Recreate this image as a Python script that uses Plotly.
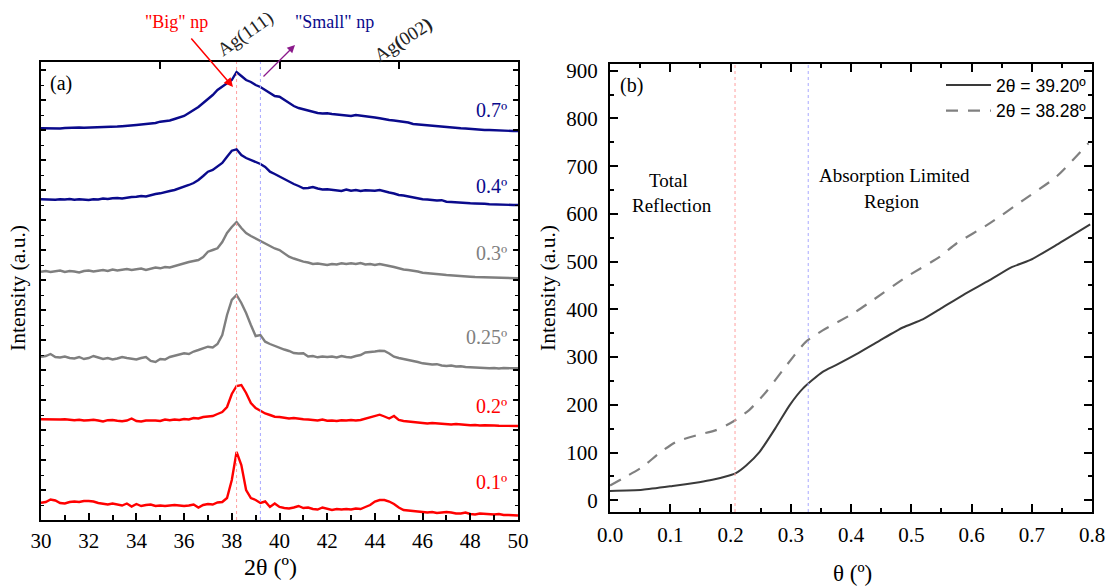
import plotly.graph_objects as go

# ---------------- Panel (a) data: 2theta scan (0.2 deg step), offset intensities (a.u.)
two_theta = [round(30 + 0.2 * i, 1) for i in range(101)]

i_01 = [17.3, 18, 20.5, 19.5, 17, 16.5, 18, 18.5, 18, 19,
        19, 18.5, 17, 16, 15.5, 16.5, 15.5, 14.5, 16.5, 13.5,
        16, 14, 15, 15.5, 14, 14.5, 14, 14.8, 15, 14.5,
        14, 14.5, 15.5, 12.5, 15, 16, 15.5, 17.5, 18, 22,
        40, 68, 55, 30, 22, 20, 17, 18.5, 13, 16.5,
        13, 12, 11.5, 12.5, 14, 12, 12.5, 11, 10.5, 12.5,
        11, 10, 11, 10.5, 11, 10.5, 11.5, 11, 13, 15,
        18.5, 20, 20, 18.5, 16, 12.5, 10, 9.5, 9, 8.5,
        8, 7.5, 8, 7, 7.5, 8, 7.5, 6.5, 6.5, 7.5,
        6, 5.5, 6.5, 6, 5.5, 5.5, 6, 5, 5, 4.5,
        4.5]

i_02 = [100.7, 100.5, 101, 100.2, 100.5, 100.8, 100, 99.8, 100.3, 99.5,
        99.8, 100.2, 99.5, 98.5, 99.8, 100, 99.2, 98.8, 99.5, 101.5,
        99, 98.5, 99.5, 99.8, 99.5, 99, 100.5, 99.8, 100.5, 100,
        101, 100.5, 102, 101.5, 103, 103.5, 104, 106, 108, 113,
        126, 134, 135, 127, 117, 112, 109, 106.5, 105, 103.3,
        103, 102.5, 101.5, 102, 101, 100.7, 100.5, 100, 99.5, 100.5,
        99.3, 99.5, 99, 99.8, 99.5, 100, 99.5, 100, 101.5, 102.5,
        104, 105.3, 103.5, 101.5, 104, 100, 99, 98.5, 98, 97.5,
        96.7, 96.5, 97, 96.5, 96, 96, 95.5, 96, 95.5, 95,
        94.7, 95, 94.5, 94.8, 94.3, 94.5, 94.2, 94, 94.3, 94,
        94]

i_025 = [163.3, 164, 166, 163, 162.5, 163.5, 162, 161.5, 163, 161,
         162, 164, 162.5, 161, 162, 160.5, 161.5, 163, 162, 161,
         160.5, 162, 163, 159, 158, 161, 160.5, 163, 164, 165.5,
         166.7, 166, 168.5, 170, 171.5, 173.3, 172.5, 176, 185, 205,
         220, 225, 217, 207, 195, 184, 185, 178.3, 176, 174,
         171.7, 170.5, 169, 167, 166.5, 166.7, 163.5, 164, 162.7, 163.5,
         163, 163.5, 162.5, 164, 163, 162.5, 164, 165, 167.5, 167.7,
         168.5, 169.3, 169, 166.5, 163.3, 162, 161, 160.5, 159.5, 158,
         156.7, 156, 155.5, 155.8, 154.5, 154, 154.5, 153.5, 153.8, 153,
         152.7, 153, 152.3, 152.5, 151.8, 152, 151.5, 152, 151.6, 151.7,
         151.7]

i_03 = [248.3, 249, 248, 248.5, 249.5, 248, 249, 248.5, 247.5, 249,
        249.5, 248.5, 249.5, 250, 249, 250.5, 249.5, 250, 251, 250,
        250.5, 251.5, 250, 251, 252.5, 251.7, 253, 252.5, 254, 255,
        256.7, 258, 259, 260, 263, 268.3, 270, 271.7, 278, 287,
        293, 298, 292, 287, 284, 281.5, 278.3, 276, 273.3, 271.5,
        270, 267, 263.3, 261.5, 259.5, 258.3, 257.5, 256, 256.5, 255.5,
        255, 256, 255.5, 256.7, 256, 256.7, 256, 257, 255.5, 256,
        255, 256, 255.3, 254, 253, 251.7, 250.5, 250, 249.5, 248.5,
        247.3, 247, 246.5, 246, 245.5, 245, 244.8, 244.5, 244, 243.8,
        243.3, 243, 242.8, 242.5, 242.7, 242.3, 242, 242, 241.8, 241.7,
        241.7]

i_04 = [320.7, 320.5, 321, 320.3, 320.8, 320.5, 321, 320.2, 320.7, 320.5,
        320, 320.8, 320.5, 321.5, 321, 321.7, 322, 321.5, 322.5, 323,
        323.3, 324, 323.5, 325, 326, 326.7, 327.5, 329, 330, 331.5,
        333.3, 335, 337, 340, 344, 348.3, 350, 353.3, 357, 363.3,
        369.3, 370.7, 365, 362, 360, 357.5, 356, 353, 348.3, 346,
        343.3, 341, 338.3, 336, 334, 331.7, 332, 333, 331.5, 330.5,
        330.7, 330, 329.5, 329, 330.5, 329.3, 330, 329, 329.7, 329.5,
        329.3, 330, 328.5, 327.5, 326.5, 325, 324.5, 323.5, 322.5, 322,
        320.7, 320.5, 320, 319.5, 319.8, 318.3, 318, 317.5, 317.3, 317,
        316.7, 316.5, 316, 316.2, 315.8, 315.5, 315.3, 315.2, 315, 315,
        315]

i_07 = [391.7, 391.5, 392, 391.8, 391.5, 392, 392.3, 392, 392.5, 392.2,
        392.3, 392.5, 393, 392.6, 393, 393.3, 393.5, 393.8, 394, 394.5,
        395, 395.5, 396, 396.5, 397, 398.3, 399, 399.5, 401, 402.5,
        404, 407, 410, 413, 417, 420.7, 425, 430, 433, 436.7,
        440, 448, 444, 440, 438, 435, 433, 430, 427, 424,
        423.3, 420, 416.7, 414, 412, 410.7, 409, 407.7, 407, 406.5,
        406.7, 406, 405.5, 405, 404.5, 404, 405, 404.5, 404, 403,
        402.5, 401.7, 400.5, 400, 399.5, 399, 398, 397.5, 396, 395.5,
        395, 394.5, 394, 393.5, 393, 392.5, 392, 392, 391.7, 391.5,
        391, 390.5, 390.3, 390, 390, 389.7, 389.5, 389.3, 389.2, 389,
        389]

scan_labels = ["0.1º", "0.2º", "0.25º", "0.3º", "0.4º", "0.7º"]
scan_series = [i_01, i_02, i_025, i_03, i_04, i_07]
scan_colors = ["#FF0000", "#FF0000", "#7F7F7F", "#7F7F7F", "#0A0A8C", "#0A0A8C"]
label_y = [38, 114, 183, 267, 334, 410]

# ---------------- Panel (b) data: intensity vs incidence angle
theta_solid = [0, 0.054, 0.104, 0.148, 0.170, 0.198, 0.209, 0.226, 0.248, 0.276,
               0.298, 0.320, 0.353, 0.375, 0.409, 0.447, 0.486, 0.519, 0.547,
               0.586, 0.630, 0.666, 0.697, 0.741, 0.797]
int_solid = [19.5, 22, 30, 38, 43, 52, 57, 73, 101, 154,
             199, 234, 269, 283, 306, 334, 362, 379, 400,
             430, 461, 488, 503, 535, 578]
theta_dash = [0, 0.020, 0.054, 0.081, 0.109, 0.143, 0.176, 0.203, 0.231, 0.259,
              0.287, 0.325, 0.353, 0.403, 0.436, 0.492, 0.547, 0.575, 0.630,
              0.686, 0.741, 0.794]
int_dash = [31, 45, 70, 98, 122, 136, 147, 164, 189, 227,
            273, 332, 356, 391, 419, 468, 510, 538, 580,
            629, 678, 748]

SERIF = "Liberation Serif"
SANS = "Liberation Sans"
W, H = 1110, 588

def px(x):
    return x / W

def py(y):
    return (H - y) / H

fig = go.Figure()

for lab, ser, col in zip(scan_labels, scan_series, scan_colors):
    fig.add_trace(go.Scatter(x=two_theta, y=ser, mode="lines", line=dict(color=col, width=2.4),
                             showlegend=False, xaxis="x", yaxis="y", hoverinfo="skip"))

# dummy trace for top axis of panel a
fig.add_trace(go.Scatter(x=[30, 50], y=[None, None], xaxis="x3", yaxis="y", showlegend=False,
                         mode="lines", hoverinfo="skip"))

fig.add_trace(go.Scatter(x=theta_solid, y=int_solid, mode="lines", name="2θ = 39.20º",
                         line=dict(color="#3A3A3A", width=2, shape="spline", smoothing=0.6),
                         xaxis="x2", yaxis="y2"))
fig.add_trace(go.Scatter(x=theta_dash, y=int_dash, mode="lines", name="2θ = 38.28º",
                         line=dict(color="#808080", width=2.2, dash="12px,10px", shape="spline", smoothing=0.6),
                         xaxis="x2", yaxis="y2"))

axis_common = dict(showgrid=False, zeroline=False, showline=True, linecolor="black", linewidth=2,
                   ticks="inside", tickcolor="black", tickwidth=1.5, automargin=False,
                   tickfont=dict(family=SERIF, size=21, color="black"))

fig.update_layout(
    template="none",
    width=W, height=H, margin=dict(l=0, r=0, t=0, b=0, pad=0),
    paper_bgcolor="white", plot_bgcolor="white",
    xaxis=dict(domain=[px(41), px(518)], range=[30, 50], dtick=2, tick0=30, ticklen=7,
               minor=dict(dtick=1, ticks="inside", ticklen=5, tickcolor="black", tickwidth=1.5),
               anchor="y", ticklabelstandoff=1, **axis_common),
    xaxis3=dict(domain=[px(41), px(518)], range=[30, 50], overlaying="x", side="top", anchor="y",
                dtick=5, tick0=30, ticklen=7, showticklabels=False, automargin=False,
                showgrid=False, zeroline=False, showline=True, linecolor="black", linewidth=2,
                ticks="inside", tickcolor="black", tickwidth=1.5),
    yaxis=dict(domain=[py(520), py(62)], range=[0, 458], dtick=30, tick0=0, ticklen=5,
               minor=dict(dtick=15, ticks="inside", ticklen=3, tickcolor="black", tickwidth=1.2),
               showticklabels=False, mirror="ticks", anchor="x", **axis_common),
    xaxis2=dict(domain=[px(610), px(1092)], range=[0, 0.8], dtick=0.1, tick0=0, ticklen=8,
                tickformat=".1f", mirror="ticks",
                minor=dict(dtick=0.05, ticks="inside", ticklen=4, tickcolor="black", tickwidth=1.5),
                anchor="y2", ticklabelstandoff=3, **axis_common),
    yaxis2=dict(domain=[py(512), py(64)], range=[-24.5, 914], dtick=100, tick0=0, ticklen=8,
                mirror="ticks",
                minor=dict(dtick=50, ticks="inside", ticklen=4, tickcolor="black", tickwidth=1.5),
                anchor="x2", ticklabelstandoff=6, **axis_common),
    legend=dict(x=px(1092), y=py(67), xanchor="right", yanchor="top", bgcolor="rgba(0,0,0,0)",
                font=dict(family=SANS, size=17.5, color="black"), tracegroupgap=2, itemwidth=45),
)

shapes = []
# dotted reference lines
for xv, col in [(38.2, "#FF9F9F"), (39.2, "#A8A8FF")]:
    shapes.append(dict(type="line", xref="x", yref="y domain", x0=xv, x1=xv, y0=0, y1=1,
                       line=dict(color=col, width=1, dash="dot")))
for xv, col in [(0.2075, "#FF9F9F"), (0.329, "#A8A8FF")]:
    shapes.append(dict(type="line", xref="x2", yref="y2 domain", x0=xv, x1=xv, y0=0, y1=1,
                       line=dict(color=col, width=1, dash="dot")))
fig.update_layout(shapes=shapes)

ann = []
for lab, col, yv in zip(scan_labels, scan_colors, label_y):
    ann.append(dict(x=px(509), y=py(520 - yv), xref="paper", yref="paper", text=lab, showarrow=False,
                    xanchor="right", yanchor="middle", font=dict(family=SERIF, size=20, color=col)))

def txt(x, y, s, size=20, color="black", angle=0, family=SERIF, xanchor="center"):
    ann.append(dict(x=px(x), y=py(y), xref="paper", yref="paper", text=s, showarrow=False,
                    xanchor=xanchor, yanchor="middle", textangle=angle,
                    font=dict(family=family, size=size, color=color)))

txt(61, 83, "(a)")
txt(631, 85, "(b)")
txt(270, 567, "2θ (º)", size=24)
txt(18, 288, "Intensity (a.u.)", size=21.5, angle=-90)
txt(852, 573, "θ (º)", size=23)
txt(548, 288, "Intensity (a.u.)", size=21.5, angle=-90)
txt(668, 180, "Total", size=19)
txt(672, 205, "Reflection", size=19)
txt(894, 175, "Absorption Limited", size=19)
txt(891, 201, "Region", size=19)
txt(176, 22, "\"Big\" np", size=18, color="#FF0000")
txt(334, 22, "\"Small\" np", size=18, color="#0A0A8C")
txt(245, 34, "Ag(111)", size=19, color="#222222", angle=-35)
txt(403, 40, "Ag<b>(</b>002<b>)</b>", size=19, color="#222222", angle=-33)

# arrows
ann.append(dict(x=px(233), y=py(87), xref="paper", yref="paper", ax=-43, ay=-50, text="",
                showarrow=True, arrowhead=2, arrowsize=1.2, arrowwidth=1.5, arrowcolor="#FF0000"))
ann.append(dict(x=px(295), y=py(45), xref="paper", yref="paper", ax=-33, ay=33, text="",
                showarrow=True, arrowhead=2, arrowsize=1.2, arrowwidth=1.3, arrowcolor="#8B1A8B"))

fig.update_layout(annotations=ann)

fig.write_html("out.html")
